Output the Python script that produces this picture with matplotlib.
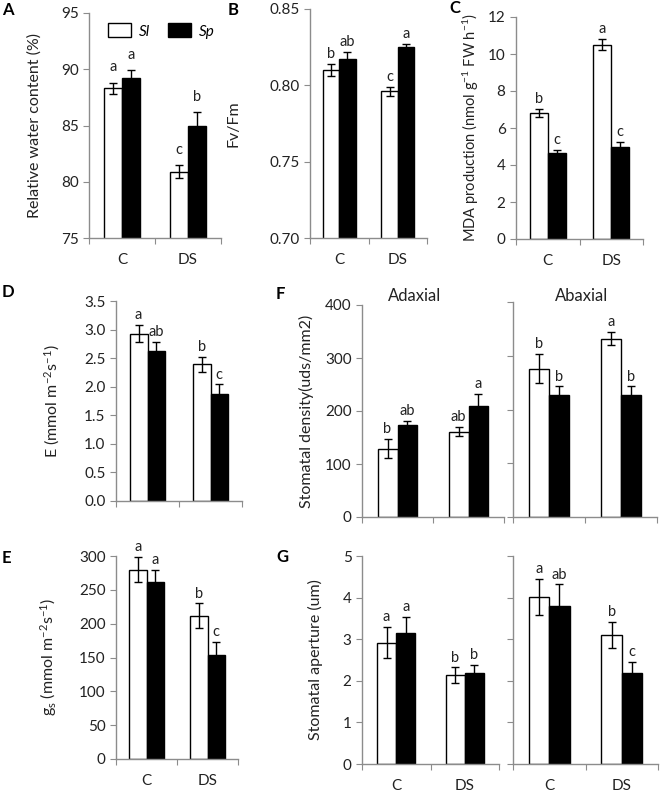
import numpy as np
import matplotlib
matplotlib.use("Agg")
import matplotlib.pyplot as plt
from matplotlib.patches import Patch

plt.rcParams["font.family"] = ["Lato", "DejaVu Sans"]
plt.rcParams["mathtext.fontset"] = "custom"
plt.rcParams["mathtext.rm"] = "Lato"
plt.rcParams["mathtext.it"] = "Lato:italic"

groups = ["C", "DS"]

# A: relative water content (%)
rwc_sl = [88.3, 80.9]
rwc_sl_err = [0.5, 0.6]
rwc_sp = [89.2, 85.0]
rwc_sp_err = [0.7, 1.2]
rwc_sl_letters = ["a", "c"]
rwc_sp_letters = ["a", "b"]

# B: Fv/Fm
fvfm_sl = [0.810, 0.796]
fvfm_sl_err = [0.004, 0.003]
fvfm_sp = [0.817, 0.825]
fvfm_sp_err = [0.005, 0.002]
fvfm_sl_letters = ["b", "c"]
fvfm_sp_letters = ["ab", "a"]

# C: MDA production
mda_sl = [6.8, 10.5]
mda_sl_err = [0.22, 0.3]
mda_sp = [4.65, 4.95]
mda_sp_err = [0.15, 0.28]
mda_sl_letters = ["b", "a"]
mda_sp_letters = ["c", "c"]

# D: transpiration E
e_sl = [2.93, 2.39]
e_sl_err = [0.15, 0.13]
e_sp = [2.62, 1.87]
e_sp_err = [0.16, 0.17]
e_sl_letters = ["a", "b"]
e_sp_letters = ["ab", "c"]

# E: stomatal conductance gs
gs_sl = [280, 212]
gs_sl_err = [19, 18]
gs_sp = [261, 153]
gs_sp_err = [19, 20]
gs_sl_letters = ["a", "b"]
gs_sp_letters = ["a", "c"]

# F: stomatal density, adaxial / abaxial
dens_ad_sl = [129, 161]
dens_ad_sl_err = [18, 9]
dens_ad_sp = [174, 209]
dens_ad_sp_err = [8, 23]
dens_ad_sl_letters = ["b", "ab"]
dens_ad_sp_letters = ["ab", "a"]
dens_ab_sl = [276, 332]
dens_ab_sl_err = [27, 12]
dens_ab_sp = [227, 227]
dens_ab_sp_err = [16, 16]
dens_ab_sl_letters = ["b", "a"]
dens_ab_sp_letters = ["b", "b"]

# G: stomatal aperture, adaxial / abaxial
ap_ad_sl = [2.92, 2.13]
ap_ad_sl_err = [0.37, 0.19]
ap_ad_sp = [3.14, 2.19]
ap_ad_sp_err = [0.39, 0.19]
ap_ad_sl_letters = ["a", "b"]
ap_ad_sp_letters = ["a", "b"]
ap_ab_sl = [4.02, 3.11]
ap_ab_sl_err = [0.43, 0.31]
ap_ab_sp = [3.79, 2.19]
ap_ab_sp_err = [0.53, 0.27]
ap_ab_sl_letters = ["a", "b"]
ap_ab_sp_letters = ["ab", "c"]

SPINE = "#8c8c8c"
TEXT = "#222222"
W = 0.28


def draw_panel(ax, sl, sl_err, sp, sp_err, sl_let, sp_let, ylim, yticks,
               fmt="{:g}", show_x=True, show_y=True, letter_pad=2):
    x = np.arange(len(groups))
    ax.bar(x - W / 2, sl, W, color="white", edgecolor="black", linewidth=1.0)
    ax.bar(x + W / 2, sp, W, color="black", edgecolor="black", linewidth=1.0)
    ax.errorbar(x - W / 2, sl, yerr=sl_err, fmt="none", ecolor="black",
                elinewidth=1.0, capsize=3, capthick=1.0)
    ax.errorbar(x + W / 2, sp, yerr=sp_err, fmt="none", ecolor="black",
                elinewidth=1.0, capsize=3, capthick=1.0)

    for i in range(len(groups)):
        ax.annotate(sl_let[i], (x[i] - W / 2, sl[i] + sl_err[i]),
                    xytext=(0, letter_pad), textcoords="offset points",
                    ha="center", va="bottom", fontsize=10.5, color=TEXT)
        ax.annotate(sp_let[i], (x[i] + W / 2, sp[i] + sp_err[i]),
                    xytext=(0, letter_pad), textcoords="offset points",
                    ha="center", va="bottom", fontsize=10.5, color=TEXT)

    ax.set_xlim(-0.5, 1.5)
    ax.set_ylim(*ylim)
    ax.set_yticks(yticks)
    if show_y:
        ax.set_yticklabels([fmt.format(t) for t in yticks])
    else:
        ax.set_yticklabels([])

    ax.set_xticks([-0.5, 0.5, 1.5])
    ax.set_xticklabels([])
    ax.set_xticks([0, 1], minor=True)
    if show_x:
        ax.set_xticklabels(groups, minor=True)
    ax.tick_params(axis="x", which="major", length=4, color=SPINE, direction="out")
    ax.tick_params(axis="x", which="minor", length=0, pad=11, labelsize=11,
                   labelcolor=TEXT)
    ax.tick_params(axis="y", length=4, color=SPINE, labelsize=11, labelcolor=TEXT)

    for side in ["top", "right"]:
        ax.spines[side].set_visible(False)
    for side in ["left", "bottom"]:
        ax.spines[side].set_color(SPINE)
        ax.spines[side].set_linewidth(1.0)


fig = plt.figure(figsize=(6.6, 7.96), dpi=100)


def add_axes(left, right, top, bottom):
    w, h = 660.0, 796.0
    return fig.add_axes([left / w, 1 - bottom / h, (right - left) / w,
                         (bottom - top) / h])


ax_a = add_axes(89, 221, 13, 238)
ax_b = add_axes(310, 427, 9, 238)
ax_c = add_axes(516, 643, 17, 239)
ax_d = add_axes(116, 242, 301, 501)
ax_e = add_axes(116, 238, 556, 759)
ax_f1 = add_axes(362, 504, 305, 517)
ax_f2 = add_axes(513, 657, 302, 517)
ax_g1 = add_axes(362, 499, 556, 764)
ax_g2 = add_axes(513, 658, 556, 764)

draw_panel(ax_a, rwc_sl, rwc_sl_err, rwc_sp, rwc_sp_err, rwc_sl_letters,
           rwc_sp_letters, (75, 95), [75, 80, 85, 90, 95], letter_pad=6)
draw_panel(ax_b, fvfm_sl, fvfm_sl_err, fvfm_sp, fvfm_sp_err, fvfm_sl_letters,
           fvfm_sp_letters, (0.70, 0.85), [0.70, 0.75, 0.80, 0.85], fmt="{:.2f}")
draw_panel(ax_c, mda_sl, mda_sl_err, mda_sp, mda_sp_err, mda_sl_letters,
           mda_sp_letters, (0, 12), [0, 2, 4, 6, 8, 10, 12])
draw_panel(ax_d, e_sl, e_sl_err, e_sp, e_sp_err, e_sl_letters, e_sp_letters,
           (0, 3.5), [0, 0.5, 1.0, 1.5, 2.0, 2.5, 3.0, 3.5], fmt="{:.1f}",
           show_x=False)
draw_panel(ax_e, gs_sl, gs_sl_err, gs_sp, gs_sp_err, gs_sl_letters,
           gs_sp_letters, (0, 300), [0, 50, 100, 150, 200, 250, 300])
draw_panel(ax_f1, dens_ad_sl, dens_ad_sl_err, dens_ad_sp, dens_ad_sp_err,
           dens_ad_sl_letters, dens_ad_sp_letters, (0, 400),
           [0, 100, 200, 300, 400], show_x=False)
draw_panel(ax_f2, dens_ab_sl, dens_ab_sl_err, dens_ab_sp, dens_ab_sp_err,
           dens_ab_sl_letters, dens_ab_sp_letters, (0, 400),
           [0, 100, 200, 300, 400], show_x=False, show_y=False)
draw_panel(ax_g1, ap_ad_sl, ap_ad_sl_err, ap_ad_sp, ap_ad_sp_err,
           ap_ad_sl_letters, ap_ad_sp_letters, (0, 5), [0, 1, 2, 3, 4, 5])
draw_panel(ax_g2, ap_ab_sl, ap_ab_sl_err, ap_ab_sp, ap_ab_sp_err,
           ap_ab_sl_letters, ap_ab_sp_letters, (0, 5), [0, 1, 2, 3, 4, 5],
           show_y=False)

# y labels (x = pixel column of the label's centre)
ylabels = [
    (ax_a, "Relative water content (%)", 35, 11.5),
    (ax_b, "Fv/Fm", 234, 11.5),
    (ax_c, "MDA production (nmol g$^{-1}$ FW h$^{-1}$)", 474, 10.5),
    (ax_d, "E (mmol m$^{-2}$s$^{-1}$)", 55, 11.5),
    (ax_e, "$\\mathregular{g_s}$ (mmol m$^{-2}$s$^{-1}$)", 52, 11.5),
    (ax_f1, "Stomatal density(uds/mm2)", 307, 11.5),
    (ax_g1, "Stomatal aperture (um)", 316, 11.5),
]
for ax, label, xpix, size in ylabels:
    ax.set_ylabel(label, fontsize=size, color=TEXT)
    bbox = ax.get_position()
    ax.yaxis.set_label_coords(((xpix + 7) / 660.0 - bbox.x0) / bbox.width, 0.5)

# subplot titles for F
fig.text(415 / 660.0, 1 - 296 / 796.0, "Adaxial", fontsize=12, color=TEXT,
         ha="center", va="center")
fig.text(582 / 660.0, 1 - 296 / 796.0, "Abaxial", fontsize=12, color=TEXT,
         ha="center", va="center")

# panel letters
for letter, xp, yp in [("A", 2, 10), ("B", 228, 10), ("C", 449, 8),
                       ("D", 2, 292), ("E", 2, 558), ("F", 276, 294),
                       ("G", 276, 557)]:
    fig.text(xp / 660.0, 1 - yp / 796.0, letter, fontsize=12,
             fontweight="bold", ha="left", va="center", color="black")

# legend in panel A
handles = [Patch(facecolor="white", edgecolor="black", label="Sl"),
           Patch(facecolor="black", edgecolor="black", label="Sp")]
ax_a.legend(handles=handles, loc="center left", bbox_to_anchor=(0.04, 0.92),
            ncol=2, frameon=False, prop={"style": "italic", "size": 11},
            handlelength=1.5, handleheight=1.0, columnspacing=1.2,
            handletextpad=0.5)

fig.savefig("out.png", dpi=100)
